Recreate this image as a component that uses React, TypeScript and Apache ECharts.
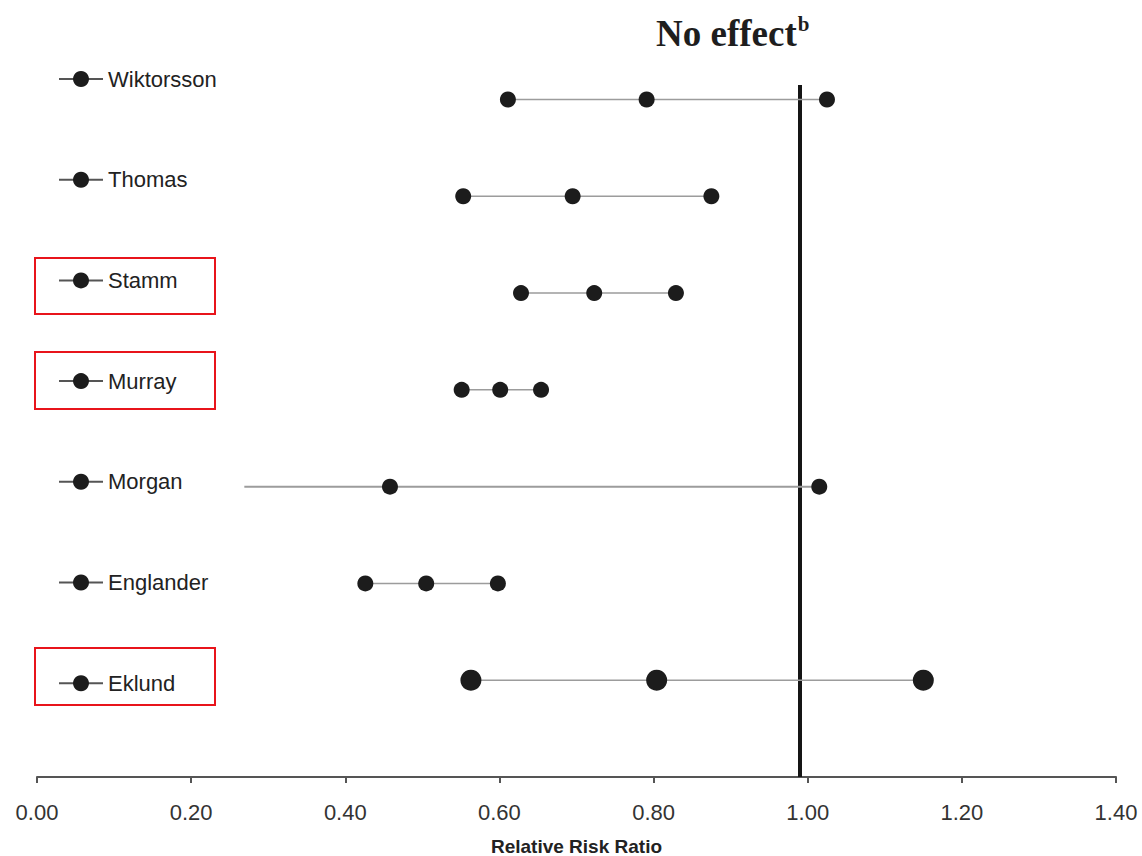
import React, { useEffect, useRef } from "react";
import * as echarts from "echarts";

// Studies, top to bottom
const studies = ["Wiktorsson", "Thomas", "Stamm", "Murray", "Morgan", "Englander", "Eklund"];
const rowPos = [7, 6, 5, 4, 3, 2, 1];
const lower = [0.611, 0.553, 0.628, 0.551, 0.269, 0.426, 0.563];
const estimate = [0.791, 0.695, 0.723, 0.601, 0.458, 0.505, 0.804];
const upper = [1.025, 0.875, 0.829, 0.654, 1.015, 0.598, 1.15];
const lowerMarked = [true, true, true, true, false, true, true];
const markerSizes = [16, 16, 16, 16, 16, 16, 21];
const noEffect = 0.99;
const xMin = 0;
const xMax = 1.4;
const xStep = 0.2;

export default function App() {
  const ref = useRef<HTMLDivElement>(null);
  useEffect(() => {
    if (!ref.current) return;
    const chart = echarts.init(ref.current, undefined, { renderer: "svg" });
    const series: any[] = studies.map((name, i) => ({
      type: "line",
      name,
      data: [
        { value: [lower[i], rowPos[i]], symbol: lowerMarked[i] ? "circle" : "none" },
        [estimate[i], rowPos[i]],
        [upper[i], rowPos[i]],
      ],
      symbol: "circle",
      symbolSize: markerSizes[i],
      lineStyle: { color: "#9c9c9c", width: i === 4 ? 2 : 1.5 },
      itemStyle: { color: "#1c1c1c" },
      emphasis: { disabled: true },
      z: 3,
      ...(i === 0
        ? {
            markLine: {
              silent: true,
              symbol: ["none", "none"],
              label: { show: false },
              lineStyle: { color: "#151515", width: 4, type: "solid" },
              data: [{ xAxis: noEffect }],
              z: 2,
            },
          }
        : {}),
    }));

    chart.setOption({
      animation: false,
      title: {
        text: "{a|No effect}{b|b}",
        left: 656,
        top: 12,
        padding: 0,
        textStyle: {
          rich: {
            a: {
              fontFamily: "Liberation Serif",
              fontWeight: "bold",
              fontSize: 37,
              color: "#1e1e1e",
              lineHeight: 42,
            },
            b: {
              fontFamily: "Liberation Serif",
              fontWeight: "bold",
              fontSize: 21,
              color: "#1e1e1e",
              verticalAlign: "top",
              padding: [1, 0, 0, 1],
            },
          },
        },
      },
      legend: {
        orient: "vertical",
        left: 58,
        top: 68,
        padding: 0,
        itemWidth: 44,
        itemHeight: 20,
        itemGap: 78.7,
        selectedMode: false,
        data: studies,
        lineStyle: { color: "#555", width: 2 },
        textStyle: { fontFamily: "Liberation Sans", fontSize: 22, color: "#222" },
      },
      grid: { left: 37, right: 26, top: 85, bottom: 79, containLabel: false, outerBoundsMode: "none" },
      xAxis: {
        type: "value",
        min: xMin,
        max: xMax,
        interval: xStep,
        name: "Relative Risk Ratio",
        nameLocation: "middle",
        nameGap: 60,
        nameTextStyle: {
          fontFamily: "Liberation Sans",
          fontWeight: "bold",
          fontSize: 19,
          color: "#222",
        },
        axisLine: { lineStyle: { color: "#555", width: 2 } },
        axisTick: { show: true, length: 6, lineStyle: { color: "#555", width: 2 } },
        axisLabel: {
          formatter: (v: number) => v.toFixed(2),
          fontFamily: "Liberation Sans",
          fontSize: 22,
          color: "#333",
          margin: 24,
        },
        splitLine: { show: false },
      },
      yAxis: { type: "value", min: 0, max: 7.15, show: false },
      graphic: [
        { type: "rect", shape: { x: 35, y: 258, width: 180, height: 56 }, style: { fill: "none", stroke: "#e8141b", lineWidth: 2 } },
        { type: "rect", shape: { x: 35, y: 352, width: 180, height: 57 }, style: { fill: "none", stroke: "#e8141b", lineWidth: 2 } },
        { type: "rect", shape: { x: 35, y: 648, width: 180, height: 57 }, style: { fill: "none", stroke: "#e8141b", lineWidth: 2 } },
      ],
      series,
    });
    return () => chart.dispose();
  }, []);
  return (
    <div
      ref={ref}
      style={{ position: "absolute", left: 0, top: 0, width: 1142, height: 856, background: "#fff" }}
    />
  );
}
